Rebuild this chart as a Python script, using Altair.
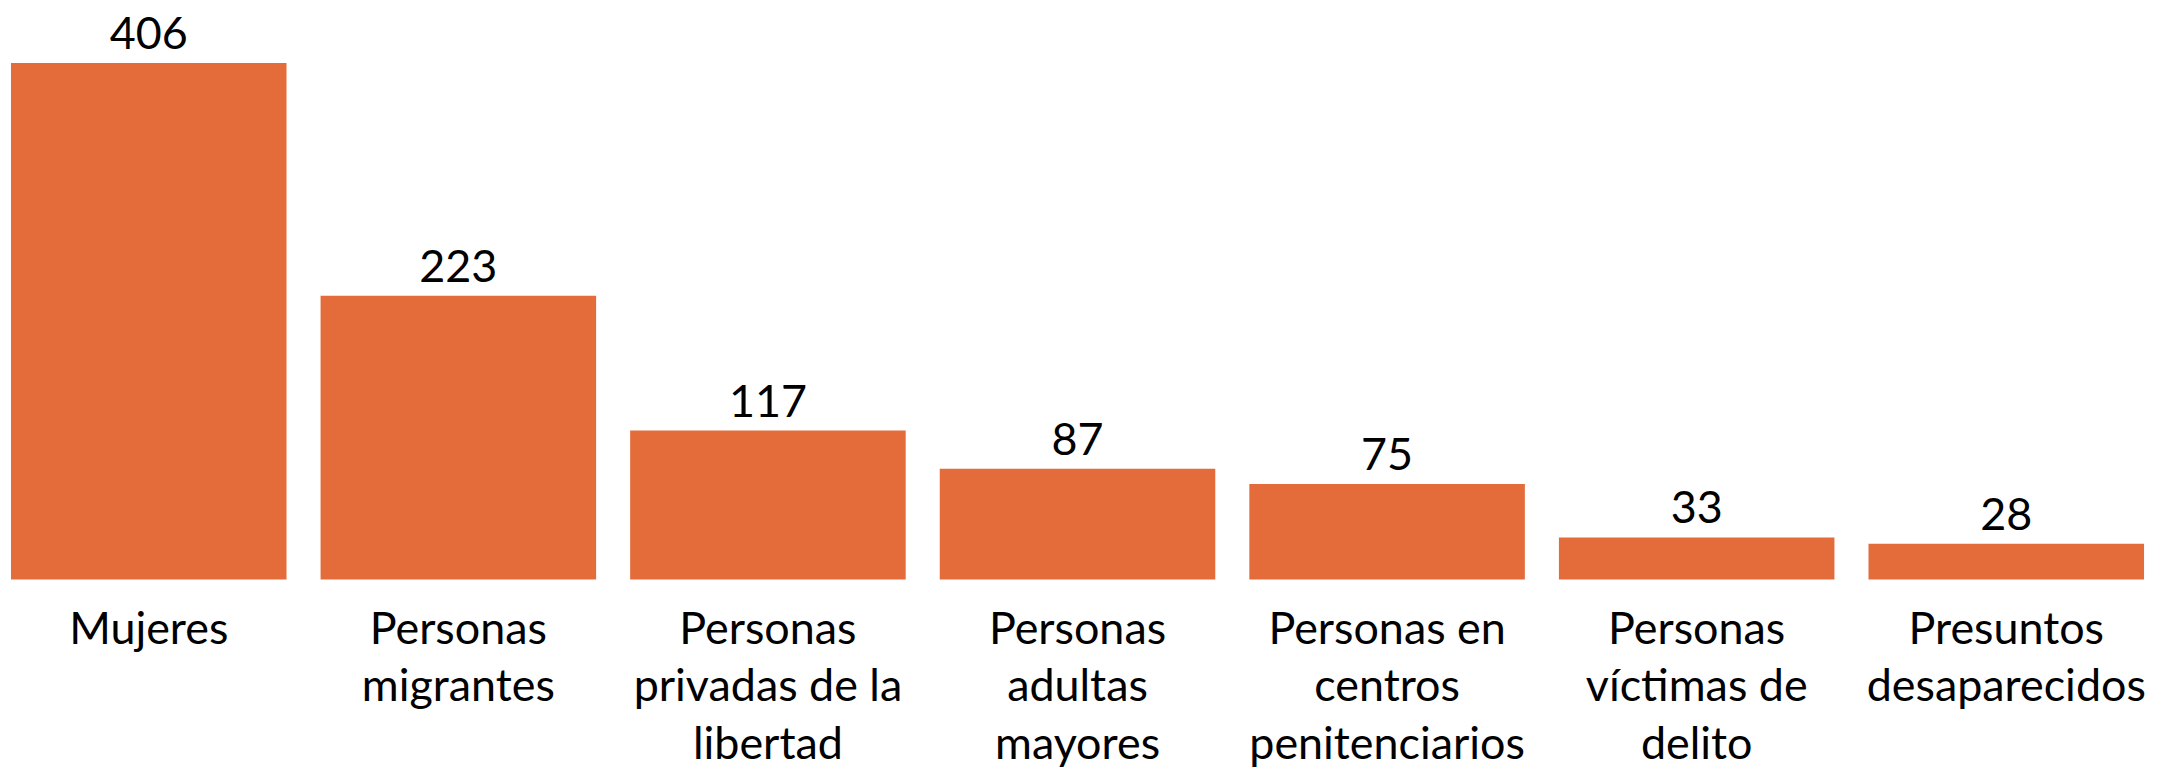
import altair as alt
import pandas as pd

categories = [
    "Mujeres",
    "Personas|migrantes",
    "Personas|privadas de la|libertad",
    "Personas|adultas|mayores",
    "Personas en|centros|penitenciarios",
    "Personas|víctimas de|delito",
    "Presuntos|desaparecidos",
]
values = [406, 223, 117, 87, 75, 33, 28]

df = pd.DataFrame({"cat": categories, "val": values})

FONT = "Lato"
COLOR = "#E46C3A"
FS = 45

x = alt.X(
    "cat:N",
    sort=None,
    scale=alt.Scale(paddingInner=0.11, paddingOuter=0),
    axis=alt.Axis(
        title=None,
        domain=False,
        ticks=False,
        labelAngle=0,
        labelFont=FONT,
        labelFontSize=FS,
        labelColor="#000000",
        labelBaseline="alphabetic",
        labelPadding=64,
        labelLineHeight=58,
        labelLimit=0,
        labelExpr="split(datum.label, '|')",
    ),
)
y = alt.Y(
    "val:Q",
    scale=alt.Scale(domain=[0, 406], nice=False),
    axis=None,
)

bars = alt.Chart(df).mark_bar(color=COLOR).encode(x=x, y=y)
labels = alt.Chart(df).mark_text(
    font=FONT, fontSize=FS, color="#000000", baseline="alphabetic", dy=-14
).encode(x=x, y=y, text=alt.Text("val:Q"))

chart = (
    (bars + labels)
    .properties(
        width=2140,
        height=518,
        padding={"left": 3, "top": 54, "right": 10, "bottom": 194},
        autosize=alt.AutoSizeParams(type="none"),
    )
    .configure_view(stroke=None)
)

chart.save("out.html", embed_options={"renderer": "svg", "actions": False})
